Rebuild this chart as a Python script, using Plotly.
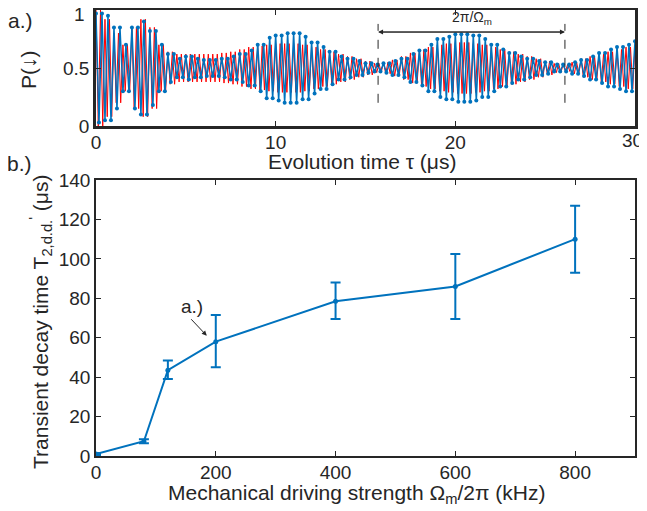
import plotly.graph_objects as go

# panel a.) - envelope of the oscillation, one value per 0.5 us bin
env_step = 0.5
blue_amp = [0.47, 0.45, 0.35, 0.20, 0.35, 0.40, 0.32, 0.20, 0.12, 0.08,
            0.10, 0.08, 0.07, 0.07, 0.08, 0.10, 0.12, 0.15, 0.20, 0.26,
            0.28, 0.30, 0.30, 0.27, 0.22, 0.18, 0.14, 0.10, 0.08, 0.06,
            0.04, 0.03, 0.04, 0.06, 0.08, 0.12, 0.15, 0.20, 0.25, 0.27,
            0.29, 0.29, 0.28, 0.25, 0.20, 0.16, 0.13, 0.10, 0.08, 0.06,
            0.05, 0.03, 0.03, 0.05, 0.07, 0.10, 0.13, 0.16, 0.18, 0.20,
            0.23]
red_amp = [0.50, 0.42, 0.30, 0.20, 0.35, 0.42, 0.35, 0.20, 0.14, 0.12,
           0.12, 0.12, 0.12, 0.12, 0.13, 0.14, 0.16, 0.18, 0.19, 0.20,
           0.21, 0.21, 0.21, 0.20, 0.18, 0.16, 0.14, 0.12, 0.10, 0.08,
           0.06, 0.04, 0.05, 0.07, 0.10, 0.13, 0.16, 0.18, 0.20, 0.21,
           0.22, 0.22, 0.21, 0.20, 0.18, 0.16, 0.14, 0.12, 0.10, 0.08,
           0.06, 0.04, 0.03, 0.05, 0.08, 0.10, 0.12, 0.14, 0.16, 0.18,
           0.19]
p_mean = 0.5
blue_per_bin = 3
red_per_bin = 4
period_marks = [15.7, 26.1]
time_ticks = [0, 10, 20, 30]
p_ticks = [0, 0.5, 1]

# panel b.)
drive_khz = [0, 80, 120, 200, 400, 600, 800]
t2_us = [1, 7.5, 43.5, 58, 78.5, 86, 110]
err_plus = [0.5, 1, 5, 13.5, 9.5, 16.5, 17]
err_minus = [0.5, 1, 4.5, 13, 9, 16.5, 17]

blue = "#0072BD"
red = "#FF0000"
axc = "#262626"
font = "Liberation Sans, Arial, sans-serif"

# the page body adds an 8px margin, so the figure is a bit smaller than the window
OFF = 8
W, H = 647 - OFF, 511 - OFF


def fx(p):
    return (p - OFF) / W


def fy(p):
    return 1 - (p - OFF) / H


def zigzag(amps, per_bin, start_sign):
    xs, ys = [], []
    n = (len(amps) - 1) * per_bin + 1
    for k in range(n):
        a = amps[k // per_bin]
        s = start_sign if k % 2 == 0 else -start_sign
        xs.append(k * env_step / per_bin)
        ys.append(p_mean + s * a)
    return xs, ys


rx, ry = zigzag(red_amp, red_per_bin, 1)
bx, by = zigzag(blue_amp, blue_per_bin, 1)

fig = go.Figure()
fig.add_trace(go.Scatter(x=rx, y=ry, mode="lines", line=dict(color=red, width=1),
                         xaxis="x", yaxis="y", showlegend=False))
fig.add_trace(go.Scatter(x=bx, y=by, mode="lines+markers", line=dict(color=blue, width=1.5),
                         marker=dict(size=4, color=blue), xaxis="x", yaxis="y", showlegend=False))

for xm in period_marks:
    fig.add_trace(go.Scatter(x=[xm, xm], y=[0.2, 0.88], mode="lines",
                             line=dict(color=axc, width=1, dash="dash"),
                             xaxis="x", yaxis="y", showlegend=False))

fig.add_trace(go.Scatter(x=drive_khz, y=t2_us, mode="lines+markers",
                         line=dict(color=blue, width=2), marker=dict(size=5, color=blue),
                         error_y=dict(type="data", array=err_plus, arrayminus=err_minus,
                                      color=blue, thickness=2, width=5),
                         xaxis="x2", yaxis="y2", showlegend=False))

ax_common = dict(showline=True, linecolor=axc, mirror="ticks", ticks="inside",
                 tickcolor=axc, ticklen=5, showgrid=False, zeroline=False, automargin=False,
                 tickfont=dict(size=19, color="#262626", family=font))

# the edge labels "30" and "1" sit at the page border, so they are drawn as text below
fig.update_layout(
    width=W, height=H,
    margin=dict(l=0, r=0, t=0, b=0, autoexpand=False),
    paper_bgcolor="white", plot_bgcolor="white",
    font=dict(family=font, color="#262626"),
    xaxis=dict(domain=[fx(96), fx(635)], range=[0, 30], tickvals=time_ticks,
               ticktext=[str(t) if t != time_ticks[-1] else "" for t in time_ticks],
               linewidth=2.5, anchor="y", ticklabelstandoff=-3, **ax_common),
    yaxis=dict(domain=[fy(126), fy(10)], range=[0, 1], tickvals=p_ticks,
               ticktext=["0", "0.5", ""], linewidth=2.5, anchor="x", **ax_common),
    xaxis2=dict(domain=[fx(96), fx(635)], range=[0, 900], tickvals=[0, 200, 400, 600, 800],
                linewidth=1.5, anchor="y2", ticklabelstandoff=-2, **ax_common),
    yaxis2=dict(domain=[fy(456), fy(180)], range=[0, 140],
                tickvals=list(range(0, 141, 20)), linewidth=1.5, anchor="x2", **ax_common),
)

fig.add_annotation(x=time_ticks[-1], y=fy(140), xref="x", yref="paper", text=str(time_ticks[-1]),
                   showarrow=False, font=dict(size=19), xanchor="center", yanchor="middle",
                   xshift=-3)
fig.add_annotation(x=fx(87), y=p_ticks[-1], xref="paper", yref="y", text="1",
                   showarrow=False, font=dict(size=19), xanchor="right", yanchor="middle",
                   yshift=-4)

# axis titles and panel labels placed as text
labels = [
    ("Evolution time τ (μs)", 362, 161, 0, 21),
    ("P(↓)", 28, 70, -90, 21),
    ("Mechanical driving strength Ω<sub>m</sub>/2π (kHz)", 356, 494, 0, 21),
    ("Transient decay time T<sub>2,d.d.</sub><sup>'</sup> (μs)", 40, 322, -90, 21),
    ("a.)", 20, 21, 0, 21),
    ("b.)", 19, 163, 0, 21),
]
for txt, px_, py_, ang, sz in labels:
    fig.add_annotation(x=fx(px_), y=fy(py_), xref="paper", yref="paper", text=txt,
                       showarrow=False, textangle=ang, font=dict(size=sz),
                       xanchor="center", yanchor="middle")

fig.add_annotation(x=period_marks[1], y=0.81, ax=period_marks[0], ay=0.81,
                   xref="x", yref="y", axref="x", ayref="y", text="",
                   showarrow=True, arrowhead=2, arrowsize=1, arrowwidth=1, arrowcolor=axc)
fig.add_annotation(x=period_marks[0], y=0.81, ax=period_marks[1], ay=0.81,
                   xref="x", yref="y", axref="x", ayref="y", text="",
                   showarrow=True, arrowhead=2, arrowsize=1, arrowwidth=1, arrowcolor=axc)
fig.add_annotation(x=(period_marks[0] + period_marks[1]) / 2, y=0.93, xref="x", yref="y",
                   text="2π/Ω<sub>m</sub>", showarrow=False, font=dict(size=14))

fig.add_annotation(x=185, y=61, xref="x2", yref="y2", text="", showarrow=True,
                   ax=-17, ay=-18, arrowhead=2, arrowsize=1, arrowwidth=1, arrowcolor=axc)
fig.add_annotation(x=160, y=76, xref="x2", yref="y2", text="a.)", showarrow=False,
                   font=dict(size=19))

fig.write_html("out.html")
